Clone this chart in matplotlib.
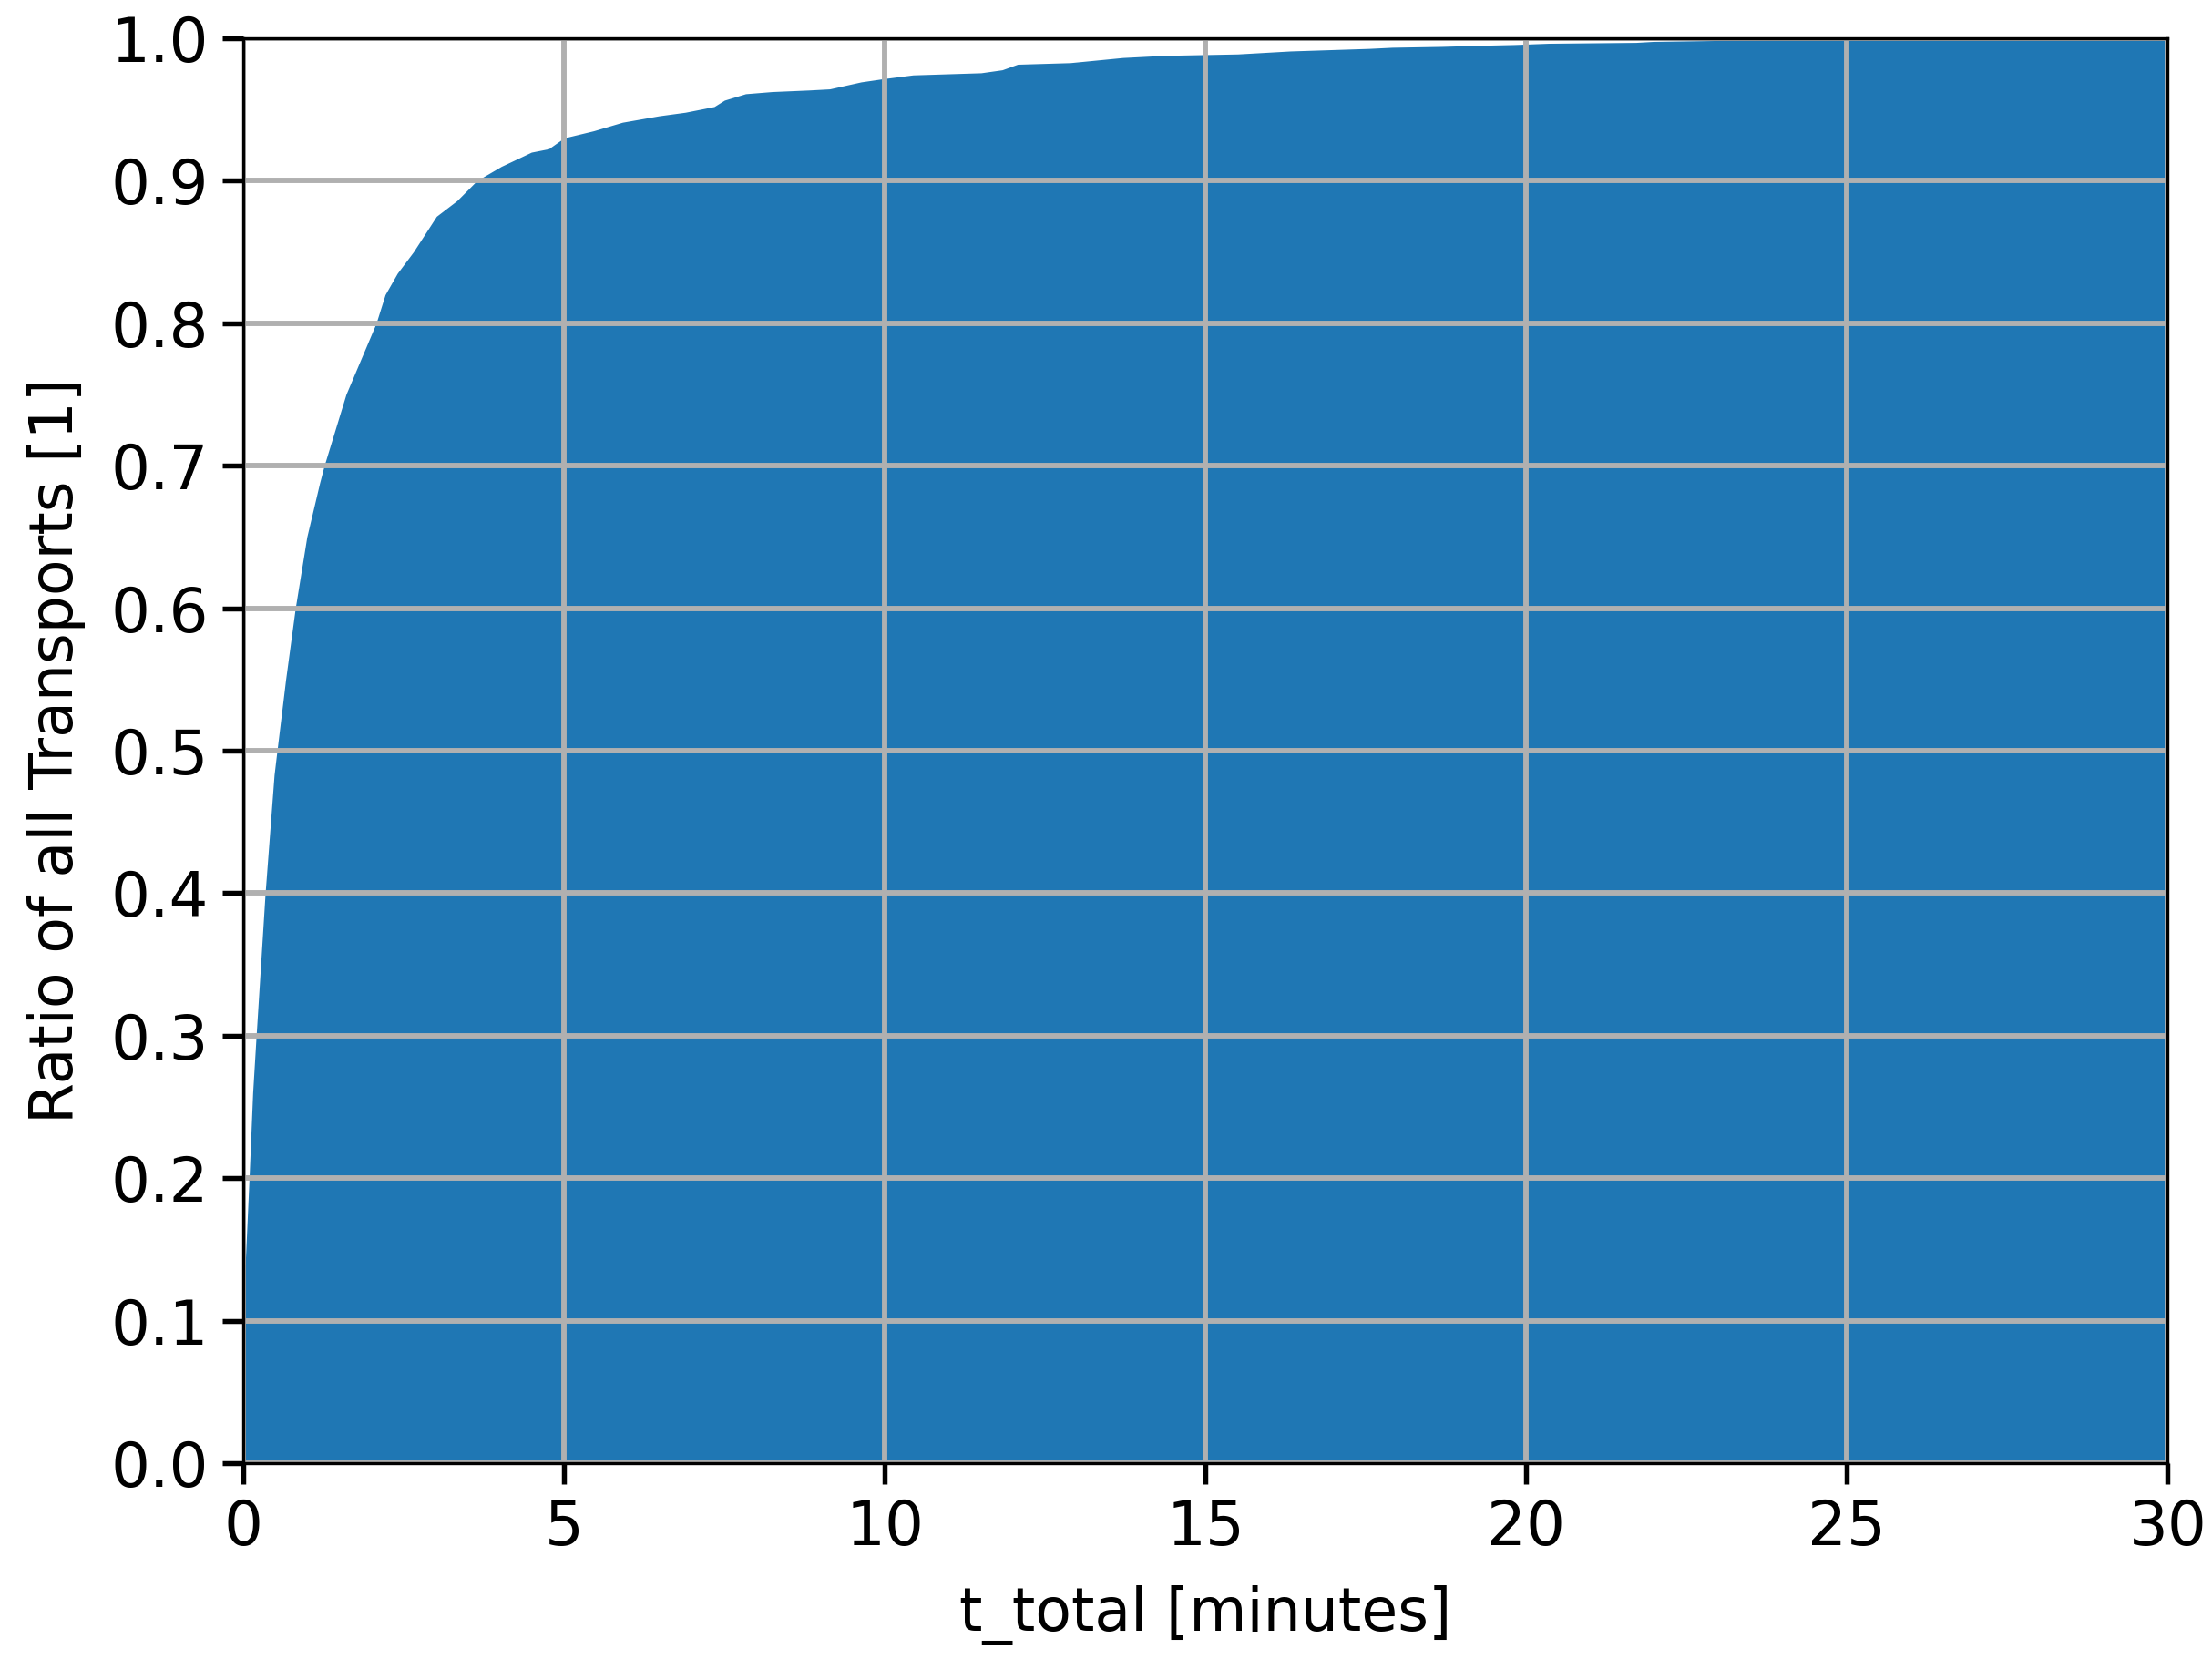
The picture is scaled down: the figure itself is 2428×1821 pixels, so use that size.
import numpy as np
from matplotlib import pyplot as plt

# cumulative share of transports over total time
t_total = [0, 0.03, 0.09, 0.146, 0.2, 0.34, 0.48, 0.525, 0.66, 0.81, 0.99, 1.19,
           1.26, 1.60, 2.07, 2.21, 2.40, 2.65, 3.01, 3.33, 3.64, 4.02, 4.49, 4.76,
           5.0, 5.46, 5.91, 6.48, 6.89, 7.34, 7.50, 7.83, 8.24, 8.81, 9.14, 9.63,
           9.95, 10.44, 11.50, 11.83, 12.07, 12.89, 13.71, 14.36, 15.50, 16.32,
           17.55, 17.91, 18.68, 19.22, 19.81, 20.35, 21.71, 21.98, 22.89, 23.88,
           23.95, 30]
ratio = [0.139, 0.14, 0.2, 0.26, 0.3, 0.4, 0.483, 0.5, 0.55, 0.6, 0.65, 0.688,
         0.7, 0.75, 0.8, 0.82, 0.835, 0.85, 0.875, 0.886, 0.9, 0.91, 0.92, 0.9224,
         0.93, 0.935, 0.941, 0.9455, 0.948, 0.952, 0.9565, 0.961, 0.9625, 0.9636,
         0.9644, 0.9693, 0.9714, 0.9742, 0.9757, 0.9778, 0.9817, 0.9828, 0.9864,
         0.9879, 0.9889, 0.991, 0.9928, 0.9936, 0.9942, 0.9949, 0.9955, 0.9964,
         0.997, 0.9977, 0.9983, 0.999, 1.0, 1.0]

x_ticks = [0, 5, 10, 15, 20, 25, 30]
y_ticks = np.round(np.arange(0, 1.01, 0.1), 1)

fig = plt.figure(figsize=(8, 6), dpi=303.5)
ax = fig.add_axes([0.110, 0.118, 0.870, 0.859])

ax.fill_between(t_total, ratio, color='#1f77b4', linewidth=0)

ax.set_xlim(0, 30)
ax.set_ylim(0, 1.0)
ax.set_xticks(x_ticks)
ax.set_yticks(y_ticks)
ax.grid(True, color='#b0b0b0', linewidth=1.4)
ax.tick_params(labelsize=16, length=5.5, width=1.3)

ax.set_xlabel('t_total [minutes]', fontsize=15.4, labelpad=7)
ax.set_ylabel('Ratio of all Transports [1]', fontsize=15.4, labelpad=6.5)

fig.savefig('out.png', dpi=303.5)
